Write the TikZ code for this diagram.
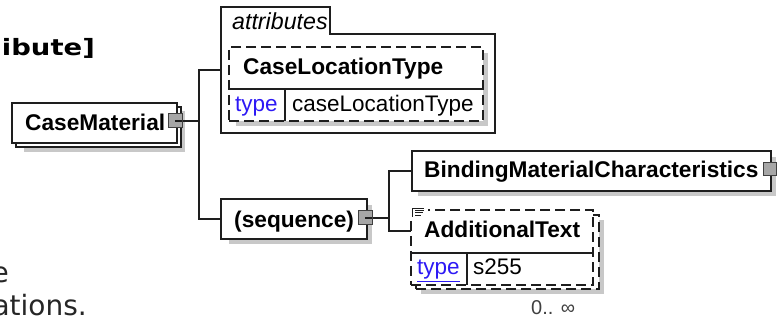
\documentclass[tikz,border=0pt]{standalone}
\usepackage{fontspec}
\setmainfont{Liberation Sans}
\newfontfamily\pagefont{DejaVu Sans}
\definecolor{typeblue}{RGB}{45,25,245}
\definecolor{shadowgray}{RGB}{200,200,200}
\definecolor{edge}{RGB}{30,30,30}
\begin{document}
\begin{tikzpicture}[x=1pt,y=-1pt,
  ebox/.style={rectangle, draw=edge, fill=white, line width=1.3pt, inner sep=0pt, outer sep=0pt, anchor=north west},
  dbox/.style={ebox, dash pattern=on 10pt off 5pt},
  shadowbox/.style={rectangle, fill=shadowgray, draw=none, inner sep=0pt, outer sep=0pt, anchor=north west},
  expander/.style={rectangle, draw=black!75, fill=black!35, line width=1pt, minimum size=13pt, inner sep=0pt},
  conn/.style={draw=edge, line width=1.3pt},
  divider/.style={draw=edge, line width=1.2pt},
  lbl/.style={font=\fontsize{22.7}{27}\selectfont\bfseries, anchor=base west, inner sep=0pt},
  txt/.style={font=\fontsize{22.5}{27}\selectfont, anchor=base west, inner sep=0pt},
  typ/.style={txt, text=typeblue},
  pagetxt/.style={font=\pagefont\fontsize{28}{33}\selectfont, text=black!85, anchor=base east, inner sep=0pt}
]
\useasboundingbox (0,0) rectangle (777,320);
\fill[white] (0,0) rectangle (777,320);
\clip (0,0) rectangle (777,320);

% surrounding page text
\node[pagetxt, font=\pagefont\bfseries\fontsize{22.5}{26}\selectfont, text=black] (ttl) at (95,56) {\scalebox{1.22}[1]{ibute]}};
\node[pagetxt] (pe) at (9,283) {e};
\node[pagetxt] (pa) at (87,316) {ations.};

% CaseMaterial
\node[shadowbox, minimum width=161pt, minimum height=41pt] (cmsh) at (24,111) {};
\node[ebox, minimum width=165pt, minimum height=40pt] (cmback) at (16,107) {};
\node[ebox, minimum width=165pt, minimum height=40pt] (cm) at (12,103) {};
\node[lbl] (cmt) at (25,131) {CaseMaterial};
\node[expander] (cmx) at (175,121) {};

% attributes group
\coordinate (attrw) at (221,70);
\draw[line width=1.2pt, draw=edge, fill=white] (221,7) -- (330,7) -- (330,34) -- (495,34) -- (495,133) -- (221,133) -- cycle;
\node[txt, font=\fontsize{23.2}{27}\selectfont\itshape] (attrt) at (232,30) {attributes};
\node[shadowbox, minimum width=252pt, minimum height=73pt] (clsh) at (236,53) {};
\node[dbox, minimum width=254pt, minimum height=74pt] (cl) at (229,47) {};
\draw[divider] (cl.west |- 0,89) -- (cl.east |- 0,89);
\draw[divider] (285,89) -- (285,121);
\node[lbl] (clt) at (243,75) {CaseLocationType};
\node[typ] (clty) at (235,112) {type};
\node[txt] (cltv) at (292,112) {caseLocationType};

% sequence
\node[shadowbox, minimum width=143pt, minimum height=39pt] (seqsh) at (229,205) {};
\node[ebox, minimum width=146pt, minimum height=40pt] (seq) at (221,199) {};
\node[lbl] (seqt) at (234,228) {(sequence)};
\node[expander] (seqx) at (365,218) {};

% BindingMaterialCharacteristics
\node[shadowbox, minimum width=358pt, minimum height=39pt] (bmsh) at (418,157) {};
\node[ebox, minimum width=359pt, minimum height=40pt] (bm) at (412,151) {};
\node[lbl] (bmt) at (424,178) {BindingMaterialCharacteristics};
\node[expander] (bmx) at (770,169.5) {};

% AdditionalText (0..unbounded)
\node[shadowbox, minimum width=183pt, minimum height=74pt] (atsh) at (421,220) {};
\node[dbox, minimum width=183pt, minimum height=74pt] (atback) at (416,215) {};
\node[dbox, minimum width=182pt, minimum height=75pt] (at) at (411,210) {};
\draw[divider] (at.west |- 0,253) -- (at.east |- 0,253);
\draw[divider] (467,253) -- (467,285);
\fill[white] (409,205) rectangle (428,219);
\draw[line width=0.8pt, draw=edge] (412,217) -- (412,208) -- (424,208);
\draw[line width=0.8pt, draw=edge] (415,210.5) -- (424,210.5) (415,212.8) -- (423,212.8) (415,215) -- (421,215);
\node[lbl] (att) at (424,238) {AdditionalText};
\node[typ] (atty) at (417,275) {\underline{type}};
\node[txt] (attv) at (473,275) {s255};
\node[txt, font=\fontsize{20}{24}\selectfont, text=black!75] (occ) at (531,315) {0.. ∞};

% connectors
\coordinate (t1a) at (199,70);
\coordinate (t1m) at (199,121);
\coordinate (t1b) at (199,219);
\draw[conn] (cmx.center) -- (t1m);
\draw[conn] (attrw) -- (t1a) -- (t1b) -- (seq.west);
\coordinate (t2a) at (389,171);
\coordinate (t2m) at (389,218);
\coordinate (t2b) at (389,231);
\coordinate (atin) at (411,231);
\draw[conn] (seqx.center) -- (t2m);
\draw[conn] (bm.west) -- (t2a) -- (t2b) -- (atin);
\draw[line width=1pt, draw=black!75, fill=black!35] (cmx.south west) rectangle (cmx.north east);
\draw[line width=1pt, draw=black!75, fill=black!35] (seqx.south west) rectangle (seqx.north east);
\draw[line width=1.2pt, draw=edge] (cmx.center) -- (cmx.east);
\draw[line width=1.2pt, draw=edge] (seqx.center) -- (seqx.east);
\end{tikzpicture}
\end{document}
